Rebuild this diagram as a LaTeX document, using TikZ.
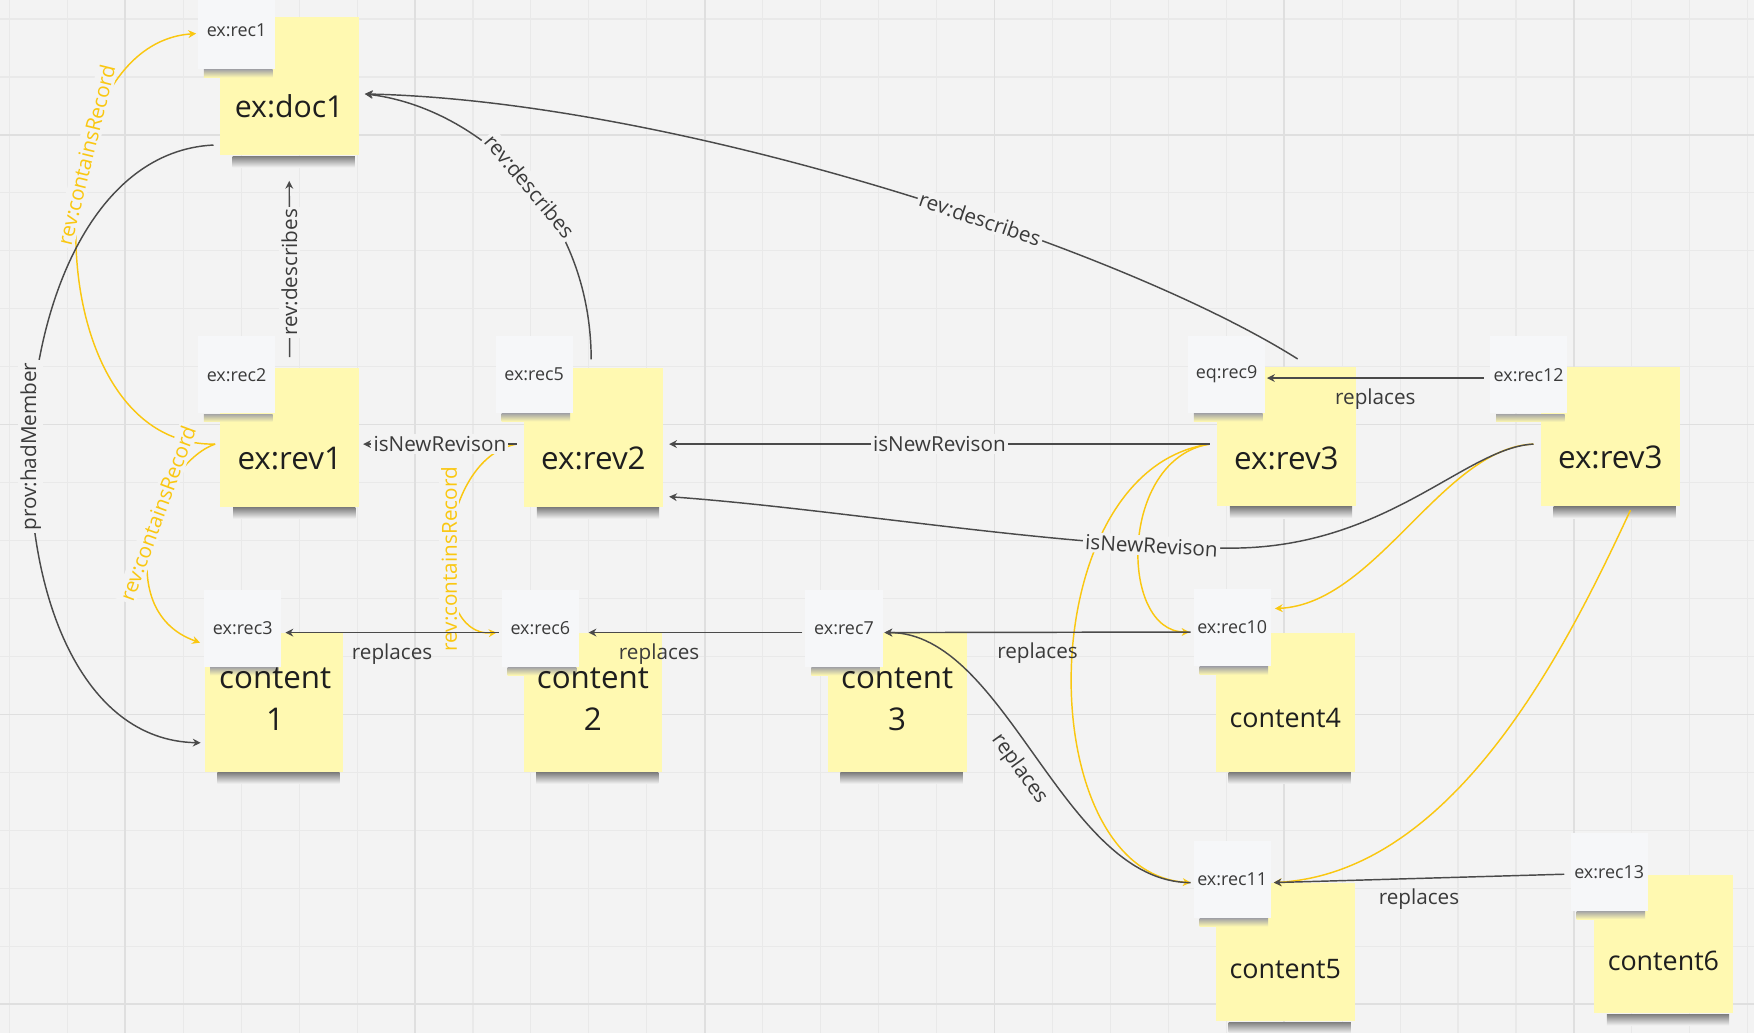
\documentclass[tikz,border=0pt]{standalone}
\usepackage{fontspec}
\setmainfont{Open Sans}
\usepackage{xcolor}
\usetikzlibrary{arrows.meta}
\usetikzlibrary{calc}

\definecolor{board}{HTML}{F3F3F3}
\definecolor{gridminor}{HTML}{E9E9E9}
\definecolor{gridmajor}{HTML}{DFDFDF}
\definecolor{notey}{HTML}{FFF9B1}
\definecolor{recw}{HTML}{F6F7F9}
\definecolor{linky}{HTML}{FAC710}
\definecolor{linkd}{HTML}{4A4A4A}
\definecolor{inkd}{HTML}{1E1E1E}
\definecolor{labelink}{HTML}{3A3A3A}

\begin{document}
\begin{tikzpicture}[x=1pt,y=-1pt,>={Stealth[length=7pt,width=7pt]},line width=1.3pt]
  \tikzstyle{sticky}=[fill=notey, minimum width=124pt, minimum height=124pt, inner sep=0pt]
  \tikzstyle{recbox}=[fill=recw, minimum width=69pt, minimum height=69pt, inner sep=0pt, text=labelink, font=\fontsize{16}{19}\selectfont]
  \tikzstyle{notetext}=[text=inkd, font=\fontsize{28}{38}\selectfont, align=center, inner sep=0pt]
  \tikzstyle{noteshadow}=[top color=black!50, bottom color=board]
  \tikzstyle{recshadow}=[top color=black!35, bottom color=notey]
  \tikzstyle{darklink}=[draw=linkd, ->]
  \tikzstyle{goldlink}=[draw=linky, ->]
  \tikzstyle{lbl}=[text=labelink, font=\fontsize{18.5}{22}\selectfont, inner sep=2pt]
  \tikzstyle{lblgap}=[lbl, fill=board]
  \tikzstyle{goldlbl}=[lbl, text=linky, fill=board]

  \useasboundingbox (0,0) rectangle (1568,923);
  \clip (0,0) rectangle (1568,923);
  \fill[board] (0,0) rectangle (1568,923);
  % board grid
  \foreach \i in {0,...,30}
    \draw[gridminor, line width=1pt] ({8.4+51.8*\i},0) -- ({8.4+51.8*\i},923);
  \foreach \j in {0,...,17}
    \draw[gridminor, line width=1pt] (0,{17+51.8*\j}) -- (1568,{17+51.8*\j});
  \foreach \i in {2,7,...,27}
    \draw[gridmajor, line width=1.5pt] ({8.4+51.8*\i},0) -- ({8.4+51.8*\i},923);
  \foreach \j in {2,7,12,17}
    \draw[gridmajor, line width=1.5pt] (0,{17+51.8*\j}) -- (1568,{17+51.8*\j});

  % sticky notes
  \node[sticky] (doc1)  at (258.5,77)    {};
  \node[sticky] (rev1)  at (259,391)     {};
  \node[sticky] (rev2)  at (530.5,391)   {};
  \node[sticky] (rev3a) at (1150,390.5)  {};
  \node[sticky] (rev3b) at (1439.5,390.5) {};
  \node[sticky] (con1)  at (245,628)     {};
  \node[sticky] (con2)  at (530,628)     {};
  \node[sticky] (con3)  at (802,628)     {};
  \node[sticky] (con4)  at (1149,628)    {};
  \node[sticky] (con5)  at (1149,851)    {};
  \node[sticky] (con6)  at (1487,844)    {};
  \foreach \n in {doc1,rev1,rev2,rev3a,rev3b,con1,con2,con3,con4,con5,con6}
    \shade[noteshadow] ($(\n.south west)+(12,0)$) rectangle ($(\n.south east)+(-4,10)$);

  % record tags
  \node[recbox] (rec1)  at (211.5,27)    {ex:rec1};
  \node[recbox] (rec2)  at (211.5,335)   {ex:rec2};
  \node[recbox] (rec5)  at (477.5,334.5) {ex:rec5};
  \node[recbox] (rec9)  at (1096.5,334.5) {eq:rec9};
  \node[recbox] (rec12) at (1366.5,335)  {ex:rec12};
  \node[recbox] (rec3)  at (217,561.5)   {ex:rec3};
  \node[recbox] (rec6)  at (483,561.5)   {ex:rec6};
  \node[recbox] (rec7)  at (754.5,561.5) {ex:rec7};
  \node[recbox] (rec10) at (1101.5,561)  {ex:rec10};
  \node[recbox] (rec11) at (1101.5,786)  {ex:rec11};
  \node[recbox] (rec13) at (1438.5,779.5) {ex:rec13};
  \foreach \n in {rec1,rec2,rec5,rec9,rec12,rec3,rec6,rec7,rec10,rec11,rec13}
    \shade[recshadow] ($(\n.south west)+(6,0)$) rectangle ($(\n.south east)+(-3,7)$);

  % note texts
  \node[notetext, font=\fontsize{27}{32}\selectfont] (doc1t) at ([yshift=-18pt]doc1.center) {ex:doc1};
  \node[notetext] (rev1t)  at ([yshift=-19pt]rev1.center)  {ex:rev1};
  \node[notetext] (rev2t)  at ([yshift=-19pt]rev2.center)  {ex:rev2};
  \node[notetext] (rev3at) at ([yshift=-19pt]rev3a.center) {ex:rev3};
  \node[notetext] (rev3bt) at ([yshift=-18pt]rev3b.center) {ex:rev3};
  \node[notetext] (con1t)  at ([yshift=3pt,xshift=1pt]con1.center) {content\\1};
  \node[notetext] (con2t)  at ([yshift=3pt]con2.center)  {content\\2};
  \node[notetext] (con3t)  at ([yshift=3pt]con3.center)  {content\\3};
  \node[notetext, font=\fontsize{24}{29}\selectfont] (con4t) at ([yshift=-14pt]con4.center) {content4};
  \node[notetext, font=\fontsize{24}{29}\selectfont] (con5t) at ([yshift=-15pt]con5.center) {content5};
  \node[notetext, font=\fontsize{24}{29}\selectfont] (con6t) at ([yshift=-15pt]con6.center) {content6};

  % rev:containsRecord
  \draw[goldlink] ($(rev1.west)+(-4,6)$) .. controls (30,400) and (30,40) .. ($(rec1.west)+(-1,3)$)
    node[goldlbl, pos=.65, sloped] (lcr1) {rev:containsRecord};
  \draw[goldlink] ($(rev1.west)+(-4,6)$) .. controls (140,415) and (95,545) .. ($(rec3.west)+(-3,13)$)
    node[goldlbl, pos=.4, sloped] (lcr3) {rev:containsRecord};
  \draw[goldlink] ($(rev2.west)+(-6,6)$) .. controls (390,410) and (380,570) .. ($(rec6.west)+(-4,4)$)
    node[goldlbl, pos=.55, rotate=90] (lcr6) {rev:containsRecord};
  \draw[goldlink] ($(rev3a.west)+(-6,6.5)$) .. controls (1000,410) and (1000,565) .. ($(rec10.west)+(-3,4)$);
  \draw[goldlink] ($(rev3a.west)+(-6,6.5)$) .. controls (920,420) and (920,780) .. ($(rec11.west)+(-2,3)$);
  \draw[goldlink] ($(rev3b.west)+(-6,6.5)$) .. controls (1290,400) and (1230,540) .. ($(rec10.east)+(3,-17)$);
  \draw[goldlink] ($(rev3b.south)+(18,3)$) .. controls (1400,580) and (1300,780) .. ($(rec11.east)+(2,3)$);

  % prov:hadMember
  \draw[darklink] ($(doc1.south west)+(-5,-10)$) .. controls (-20,140) and (-30,660) .. ($(con1.west)+(-3,36)$)
    node[lblgap, pos=.5, rotate=90] (lhm) {prov:hadMember};

  % rev:describes
  \draw[darklink, shorten <=9pt, shorten >=22pt] (rev1.north) -- (doc1.south)
    node[lblgap, pos=.45, rotate=90] (ld1) {rev:describes};
  \draw[darklink] ($(rev2.north)+(-2,-7)$) .. controls (528,180) and (420,95) .. ($(doc1.east)+(5,7)$)
    node[lblgap, pos=.45, sloped] (ld2) {rev:describes};
  \draw[darklink] ($(rev3a.north)+(10,-7)$) .. controls (1000,220) and (600,90) .. ($(doc1.east)+(5,7)$)
    node[lblgap, pos=.4, sloped] (ld3) {rev:describes};

  % isNewRevison
  \draw[darklink] ($(rev2.west)+(-6,6)$) -- ($(rev1.east)+(3,6)$)
    node[lblgap, midway] (ln1) {isNewRevison};
  \draw[darklink] ($(rev3a.west)+(-6,6.5)$) -- ($(rev2.east)+(5,6)$)
    node[lblgap, midway] (ln2) {isNewRevison};
  \draw[darklink] ($(rev3b.west)+(-6,6.5)$) .. controls (1310,400) and (1240,490) .. (1100,490)
    .. controls (950,490) and (750,455) .. ($(rev2.east)+(5,53)$)
    node[lblgap, pos=.15, sloped] (ln3) {isNewRevison};

  % replaces
  \draw[darklink] ($(rec12.west)+(-5,3)$) -- ($(rec9.east)+(1,3.5)$)
    node[lbl, midway, below=7pt] (lr1) {replaces};
  \draw[darklink] ($(rec6.west)+(-2,4)$) -- ($(rec3.east)+(3,4)$)
    node[lbl, midway, below=7pt] (lr2) {replaces};
  \draw[darklink] ($(rec7.west)+(-2,4)$) -- ($(rec6.east)+(8,4)$)
    node[lbl, pos=.67, below=7pt] (lr3) {replaces};
  \draw[darklink] ($(rec10.west)+(-2,4)$) -- ($(rec7.east)+(1,4)$)
    node[lbl, midway, below=7pt] (lr4) {replaces};
  \draw[darklink] ($(rec11.west)+(-2,3)$) .. controls (950,789) and (900,565) .. ($(rec7.east)+(1,4)$)
    node[lbl, midway, sloped, below=6pt] (lr5) {replaces};
  \draw[darklink] ($(rec13.west)+(-5,2)$) -- ($(rec11.east)+(2,3)$)
    node[lbl, midway, below=7pt] (lr6) {replaces};
\end{tikzpicture}
\end{document}
